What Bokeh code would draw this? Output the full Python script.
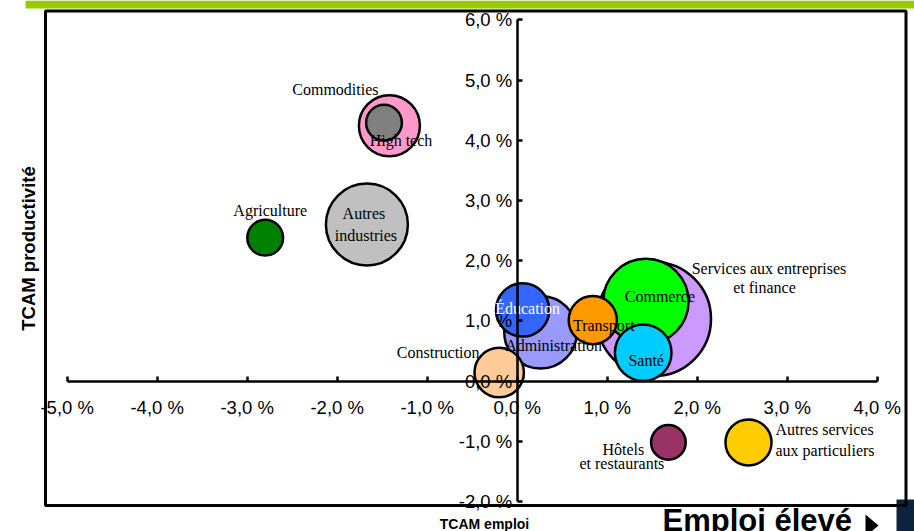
import math

from bokeh.core.properties import value
from bokeh.embed import file_html
from bokeh.models import ColumnDataSource, FixedTicker
from bokeh.plotting import figure
from bokeh.resources import INLINE

# --- data: annual growth rates (TCAM) of employment and productivity by sector
secteurs = [
    "Commodities", "High tech", "Agriculture", "Autres industries",
    "Services aux entreprises et finance", "Commerce", "Santé",
    "Administration", "Transport", "Éducation", "Construction",
    "Hôtels et restaurants", "Autres services aux particuliers",
]
tcam_emploi = [-1.42, -1.48, -2.80, -1.67, 1.52, 1.43, 1.40, 0.26, 0.84, 0.06, -0.20, 1.68, 2.57]
tcam_productivite = [4.24, 4.29, 2.38, 2.60, 1.03, 1.32, 0.47, 0.81, 1.01, 1.18, 0.14, -1.02, -1.02]
poids = [9.3, 3.2, 3.2, 16.8, 32.5, 18.2, 8.0, 13.2, 5.8, 7.1, 6.1, 3.0, 5.3]
couleurs = [
    "#ff99cc", "#808080", "#008000", "#c0c0c0", "#cc99ff", "#00ff00", "#00ccff",
    "#9999ff", "#ff9900", "#3366ff", "#ffcc99", "#993366", "#ffcc00",
]

x_ticks = [-5, -4, -3, -2, -1, 0, 1, 2, 3, 4]
x_tick_labels = ["-5,0 %", "-4,0 %", "-3,0 %", "-2,0 %", "-1,0 %", "0,0 %", "1,0 %", "2,0 %", "3,0 %", "4,0 %"]
y_ticks = [-2, -1, 0, 1, 2, 3, 4, 5, 6]
y_tick_labels = ["-2,0 %", "-1,0 %", "0,0 %", "1,0 %", "2,0 %", "3,0 %", "4,0 %", "5,0 %", "6,0 %"]

# --- geometry of the page (pixels) and matching data ranges
W, H = 914, 531
SX, SY = 90.0, 60.2            # pixels per percentage point
ORIGIN_PX = (516.7, 380.5)     # where 0 % / 0 % sits on the page
X_START = -ORIGIN_PX[0] / SX
X_END = (W - ORIGIN_PX[0]) / SX
Y_END = ORIGIN_PX[1] / SY
Y_START = -(H - ORIGIN_PX[1]) / SY


def px_x(px):
    return X_START + px / SX


def px_y(py):
    return Y_END - py / SY


p = figure(
    width=W, height=H, output_backend="svg", toolbar_location=None,
    x_range=(X_START, X_END), y_range=(Y_START, Y_END), min_border=0,
)
p.title.visible = False
p.outline_line_color = None
p.grid.visible = False
p.background_fill_color = "white"
p.border_fill_color = "white"

# decorations: green band, navy corner block, framing box
p.quad(left=px_x(25), right=px_x(W), top=px_y(0), bottom=px_y(8),
       fill_color="#99cc00", line_color=None)
p.quad(left=px_x(896), right=px_x(W), top=px_y(499), bottom=px_y(H),
       fill_color="#0c2340", line_color=None)
p.quad(left=px_x(45), right=px_x(905.5), top=px_y(10.5), bottom=px_y(505),
       fill_color=None, line_color="black", line_width=3)

# axes crossing at the origin
for ax, ticks, labels, bounds in (
    (p.xaxis[0], x_ticks, x_tick_labels, (-5, 4)),
    (p.yaxis[0], y_ticks, y_tick_labels, (-2, 6)),
):
    ax.fixed_location = 0
    ax.bounds = bounds
    ax.ticker = FixedTicker(ticks=ticks)
    ax.major_label_overrides = dict(zip(ticks, labels))
    ax.axis_line_width = 2.5
    ax.axis_line_color = "black"
    ax.major_tick_line_width = 2.5
    ax.major_tick_in = 5
    ax.major_tick_out = 0
    ax.minor_tick_line_color = None
    ax.major_label_text_font = "Liberation Sans"
    ax.major_label_text_font_size = "18.5px"
    ax.major_label_text_color = "black"
p.xaxis[0].major_label_standoff = 16
p.yaxis[0].major_label_standoff = 5

# bubbles: area proportional to weight
bulles = ColumnDataSource(dict(
    x=tcam_emploi, y=tcam_productivite, color=couleurs,
    size=[20 * math.sqrt(w) for w in poids], nom=secteurs,
))
p.scatter("x", "y", size="size", source=bulles, fill_color="color",
          line_color="black", line_width=2.5)

# sector labels: (sector, line of text, dx px, dy px, colour)
etiquettes = [
    ("Commodities", "Commodities", -54, -36, "black"),
    ("High tech", "High tech", 17, 18, "black"),
    ("Agriculture", "Agriculture", 5, -27, "black"),
    ("Autres industries", "Autres", -3, -10.5, "black"),
    ("Autres industries", "industries", -1, 11, "black"),
    ("Services aux entreprises et finance", "Services aux entreprises", 115, -50.5, "black"),
    ("Services aux entreprises et finance", "et finance", 110.5, -31, "black"),
    ("Commerce", "Commerce", 14, -5, "black"),
    ("Transport", "Transport", 11, 5, "black"),
    ("Éducation", "Éducation", 5, -1.5, "white"),
    ("Administration", "Administration", 13, 13, "black"),
    ("Construction", "Construction", -61, -20.5, "black"),
    ("Santé", "Santé", 3, 8, "black"),
    ("Hôtels et restaurants", "Hôtels", -45, 7, "black"),
    ("Hôtels et restaurants", "et restaurants", -46.5, 21, "black"),
]
etiquettes_gauche = [
    ("Autres services aux particuliers", "Autres services", 27, -12.5, "black"),
    ("Autres services aux particuliers", "aux particuliers", 27, 8, "black"),
]


def label_source(rows):
    xs, ys, txt, col = [], [], [], []
    for nom, ligne, dx, dy, c in rows:
        i = secteurs.index(nom)
        xs.append(tcam_emploi[i] + dx / SX)
        ys.append(tcam_productivite[i] - dy / SY)
        txt.append(ligne)
        col.append(c)
    return ColumnDataSource(dict(x=xs, y=ys, text=txt, color=col))


serif = dict(text_font=value("Liberation Serif"), text_font_size="16px",
             text_baseline="middle", text_color="color")
p.text("x", "y", text="text", source=label_source(etiquettes), text_align="center", **serif)
p.text("x", "y", text="text", source=label_source(etiquettes_gauche), text_align="left", **serif)

# axis titles and the corner caption
p.text(x=[px_x(28)], y=[px_y(248)], text=["TCAM productivité"], angle=math.pi / 2,
       text_font=value("Liberation Sans"), text_font_style="bold", text_font_size="18.5px",
       text_align="center", text_baseline="middle", text_color="black")
p.text(x=[px_x(484)], y=[px_y(523)], text=["TCAM emploi"],
       text_font=value("Liberation Sans"), text_font_style="bold", text_font_size="14px",
       text_align="center", text_baseline="middle", text_color="black")
p.text(x=[px_x(662)], y=[px_y(502)], text=["Emploi élevé"],
       text_font=value("Liberation Sans"), text_font_style="bold", text_font_size="31px",
       text_align="left", text_baseline="top", text_color="black")
p.patch(x=[px_x(865), px_x(878), px_x(865)], y=[px_y(514), px_y(525), px_y(536)],
        fill_color="black", line_color=None)

open("out.html", "w").write(file_html(p, INLINE))
